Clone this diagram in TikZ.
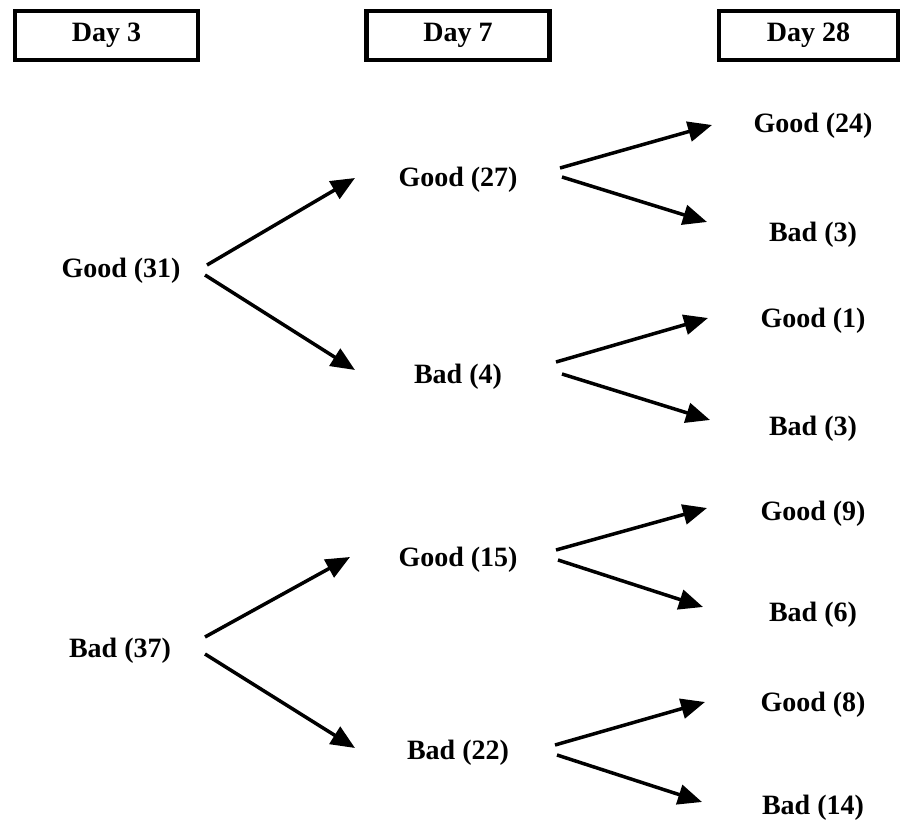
\documentclass[tikz,border=0pt]{standalone}
\usepackage{fontspec}
\setmainfont{Liberation Serif}
\usetikzlibrary{arrows.meta}
\begin{document}
\begin{tikzpicture}[x=1pt,y=-1pt,
  bigfont/.style={font=\fontsize{28}{32}\selectfont\bfseries, inner sep=0pt},
  lbl/.style={bigfont, yshift=-3pt},
  daybox/.style={bigfont, draw, line width=4.5pt, minimum width=183pt, minimum height=49pt},
  arr/.style={line width=3.5pt, -{Triangle[length=24pt,width=20pt]}}]
\useasboundingbox[fill=white] (0,0) rectangle (903,821);
% header boxes
\node[daybox] (d3) at (106.5,35.5) {Day 3};
\node[daybox] (d7) at (458,35.5) {Day 7};
\node[daybox, minimum width=179pt] (d28) at (808.5,35.5) {Day 28};
% Day 3 column
\node[lbl] (g31) at (121,268) {Good (31)};
\node[lbl] (b37) at (120,648) {Bad (37)};
% Day 7 column
\node[lbl] (g27) at (458,177) {Good (27)};
\node[lbl] (b4)  at (458,374) {Bad (4)};
\node[lbl] (g15) at (458,557) {Good (15)};
\node[lbl] (b22) at (458,750) {Bad (22)};
% Day 28 column
\node[lbl] (g24) at (813,123) {Good (24)};
\node[lbl] (b3a) at (813,232) {Bad (3)};
\node[lbl] (g1)  at (813,318) {Good (1)};
\node[lbl] (b3b) at (813,426) {Bad (3)};
\node[lbl] (g9)  at (813,511) {Good (9)};
\node[lbl] (b6)  at (813,612) {Bad (6)};
\node[lbl] (g8)  at (813,702) {Good (8)};
\node[lbl] (b14) at (813,805) {Bad (14)};
% arrows Day 3 -> Day 7
\draw[arr] ([shift={(86,-6)}]g31.center) -- ([shift={(-103,-2)}]g27.center);
\draw[arr] ([shift={(84,4)}]g31.center) -- ([shift={(-103,-7)}]b4.center);
\draw[arr] ([shift={(85,-14)}]b37.center) -- ([shift={(-108,-3)}]g15.center);
\draw[arr] ([shift={(85,3)}]b37.center) -- ([shift={(-103,-5)}]b22.center);
% arrows Day 7 -> Day 28
\draw[arr] ([shift={(102,-12)}]g27.center) -- ([shift={(-101,-1)}]g24.center);
\draw[arr] ([shift={(104,-3)}]g27.center) -- ([shift={(-106,-13)}]b3a.center);
\draw[arr] ([shift={(98,-15)}]b4.center) -- ([shift={(-105,-3)}]g1.center);
\draw[arr] ([shift={(104,-3)}]b4.center) -- ([shift={(-103,-9)}]b3b.center);
\draw[arr] ([shift={(98,-10)}]g15.center) -- ([shift={(-106,-6)}]g9.center);
\draw[arr] ([shift={(100,0)}]g15.center) -- ([shift={(-110,-8)}]b6.center);
\draw[arr] ([shift={(97,-8)}]b22.center) -- ([shift={(-108,-3)}]g8.center);
\draw[arr] ([shift={(99,2)}]b22.center) -- ([shift={(-111,-6)}]b14.center);
\end{tikzpicture}
\end{document}
